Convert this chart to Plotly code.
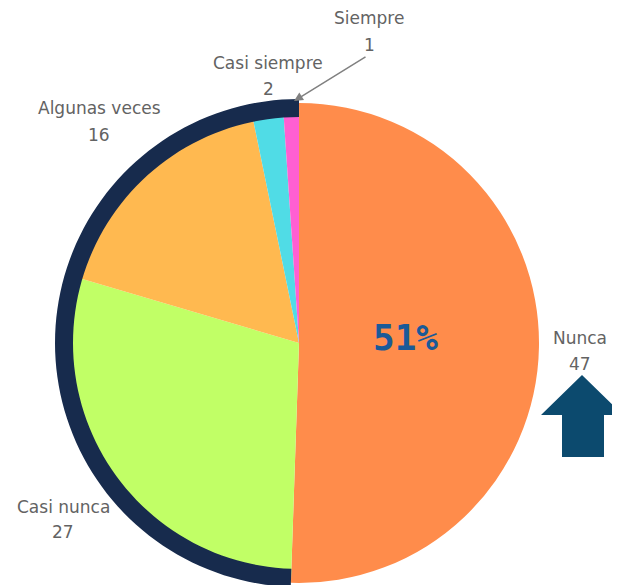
import numpy as np
import plotly.graph_objects as go

labels = ['Nunca', 'Casi nunca', 'Algunas veces', 'Casi siempre', 'Siempre']
values = [47, 27, 16, 2, 1]
colors = ['#FF8C4B', '#C1FF66', '#FFB950', '#50DCE6', '#FF5FD2']

# page body has an 8px margin, so the figure is drawn 8px in from the window
OFF = 8
W, H = 620 - OFF, 585 - OFF
cx, cy, r = 299, 343, 240  # pie centre / radius in window px


def to_paper(x, y):
    return (x - OFF) / W, 1 - (y - OFF) / H


fig = go.Figure()
x0, y0 = to_paper(cx - r, cy + r)
x1, y1 = to_paper(cx + r, cy - r)
fig.add_trace(go.Pie(
    labels=labels,
    values=values,
    sort=False,
    direction='clockwise',
    rotation=0,
    marker=dict(colors=colors, line=dict(width=0)),
    textinfo='none',
    hoverinfo='label+value',
    showlegend=False,
    domain=dict(x=[x0, x1], y=[y0, y1]),
))

# navy ring over the slices that are not "Nunca"
total = sum(values)
a0 = 2 * np.pi * values[0] / total
th = np.linspace(a0, 2 * np.pi, 90)
r_out, r_in = r + 4, r - 14
outer = [to_paper(cx + r_out * np.sin(t), cy - r_out * np.cos(t)) for t in th]
inner = [to_paper(cx + r_in * np.sin(t), cy - r_in * np.cos(t)) for t in th[::-1]]
path = 'M ' + ' L '.join(f'{x:.5f},{y:.5f}' for x, y in outer + inner) + ' Z'
fig.add_shape(type='path', path=path, xref='paper', yref='paper',
              fillcolor='#172B4D', line=dict(width=0))

# block arrow bottom right
arrow = [(541, 415), (582, 375), (623, 415), (604, 415), (604, 457), (562, 457), (562, 415)]
apath = 'M ' + ' L '.join('%.5f,%.5f' % to_paper(x, y) for x, y in arrow) + ' Z'
fig.add_shape(type='path', path=apath, xref='paper', yref='paper',
              fillcolor='#0C4A6E', line=dict(width=0))

# outside labels: (centre x, name line y, value line y) in window px
lab_pos = {
    'Nunca': (580, 338, 364),
    'Casi nunca': (63, 507, 532),
    'Algunas veces': (99, 108, 135),
    'Casi siempre': (268, 63, 89),
    'Siempre': (369, 18, 45),
}
font = dict(family='DejaVu Sans', size=17, color='#636363')
for lab, val in zip(labels, values):
    lx, ly1, ly2 = lab_pos[lab]
    for txt, yy in ((lab, ly1), (str(val), ly2)):
        x, y = to_paper(lx, yy)
        fig.add_annotation(x=x, y=y, xref='paper', yref='paper', text=txt,
                           showarrow=False, font=font, xanchor='center', yanchor='middle')
    if lab == 'Siempre':
        hx, hy = to_paper(294, 101)
        fig.add_annotation(x=hx, y=hy, xref='paper', yref='paper', ax=73, ay=-45,
                           showarrow=True, arrowhead=2, arrowsize=1.2, arrowwidth=1.5,
                           arrowcolor='#808080', text='', standoff=0)

pct = round(values[0] / total * 100)
px_, py_ = to_paper(405, 338)
fig.add_annotation(x=px_, y=py_, xref='paper', yref='paper', text=f'<b>{pct}%</b>',
                   showarrow=False, xanchor='center', yanchor='middle',
                   font=dict(family='DejaVu Sans Mono', size=36, color='#1A5A98'))

fig.update_layout(
    width=W, height=H,
    margin=dict(l=0, r=0, t=0, b=0),
    paper_bgcolor='white',
    plot_bgcolor='white',
)

fig.write_html('out.html')
